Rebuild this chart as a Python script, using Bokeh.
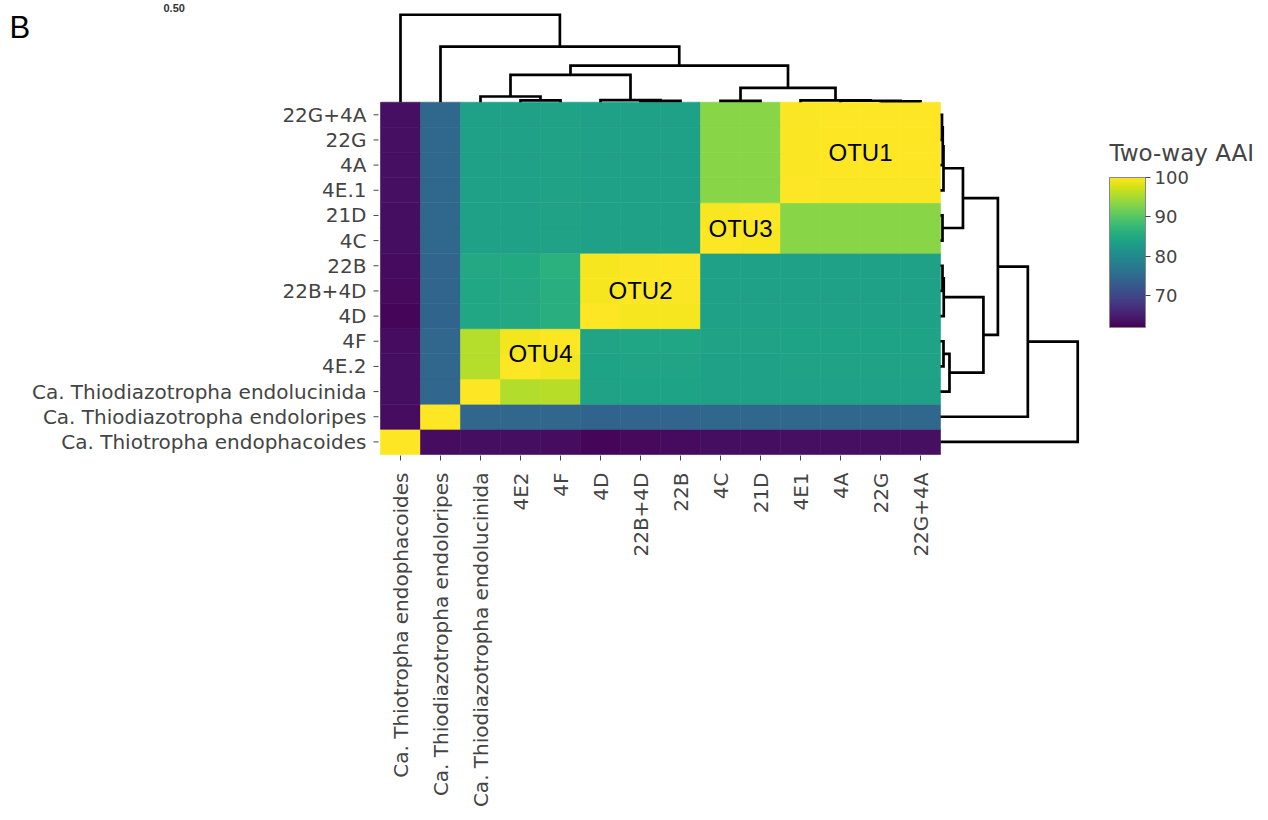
import math
from bokeh.plotting import figure
from bokeh.models import Range1d, FixedTicker, LinearColorMapper, ColorBar, ColumnDataSource
from bokeh.palettes import Viridis256
from bokeh.embed import file_html
from bokeh.resources import INLINE
from bokeh.core.properties import value

# ---------------- data ----------------
col_labels = ["Ca. Thiotropha endophacoides", "Ca. Thiodiazotropha endoloripes",
              "Ca. Thiodiazotropha endolucinida", "4E2", "4F", "4D", "22B+4D", "22B",
              "4C", "21D", "4E1", "4A", "22G", "22G+4A"]
row_labels = ["Ca. Thiotropha endophacoides", "Ca. Thiodiazotropha endoloripes",
              "Ca. Thiodiazotropha endolucinida", "4E.2", "4F", "4D", "22B+4D", "22B",
              "4C", "21D", "4E.1", "4A", "22G", "22G+4A"]

# two-way AAI, one list per row (bottom row first), columns in col_labels order
aai_endophacoides = [100.0, 63.2, 63.4, 63.4, 63.3, 62.6, 63.0, 63.1, 63.4, 63.4, 63.5, 63.5, 63.5, 63.5]
aai_endoloripes = [63.3, 100.0, 74.6, 74.5, 74.5, 74.3, 74.4, 74.4, 74.8, 74.8, 74.7, 74.7, 74.7, 74.7]
aai_endolucinida = [63.4, 74.6, 100.0, 95.6, 95.9, 83.9, 84.0, 84.0, 83.7, 83.7, 83.8, 83.8, 83.8, 83.8]
aai_4E2 = [63.4, 74.5, 95.8, 100.0, 99.3, 84.1, 84.2, 84.2, 83.8, 83.8, 83.9, 83.9, 83.9, 83.9]
aai_4F = [63.3, 74.5, 95.8, 99.3, 100.0, 84.2, 84.3, 84.3, 83.9, 83.9, 84.0, 84.0, 84.0, 84.0]
aai_4D = [62.6, 74.3, 84.8, 85.0, 86.0, 100.0, 99.5, 99.5, 83.8, 83.8, 83.7, 83.7, 83.7, 83.7]
aai_22B4D = [63.0, 74.4, 84.8, 85.0, 86.0, 99.5, 100.0, 99.8, 83.8, 83.8, 83.7, 83.7, 83.7, 83.7]
aai_22B = [63.1, 74.4, 84.9, 85.1, 86.2, 99.5, 99.8, 100.0, 83.8, 83.8, 83.7, 83.7, 83.7, 83.7]
aai_4C = [63.4, 74.8, 83.8, 83.8, 83.9, 83.8, 83.8, 83.8, 100.0, 99.6, 93.3, 93.3, 93.3, 93.3]
aai_21D = [63.4, 74.8, 83.8, 83.8, 83.9, 83.8, 83.8, 83.8, 99.6, 100.0, 93.2, 93.2, 93.2, 93.2]
aai_4E1 = [63.5, 74.7, 83.8, 83.8, 83.9, 83.7, 83.7, 83.7, 93.3, 93.3, 100.0, 99.8, 99.8, 99.8]
aai_4A = [63.5, 74.7, 83.8, 83.8, 83.9, 83.7, 83.7, 83.7, 93.3, 93.3, 99.8, 100.0, 99.9, 99.9]
aai_22G = [63.5, 74.7, 83.8, 83.8, 83.9, 83.7, 83.7, 83.7, 93.3, 93.3, 99.8, 99.9, 100.0, 99.9]
aai_22G4A = [63.5, 74.7, 83.8, 83.8, 83.9, 83.7, 83.7, 83.7, 93.3, 93.3, 99.8, 99.9, 99.9, 100.0]
aai_rows = [aai_endophacoides, aai_endoloripes, aai_endolucinida, aai_4E2, aai_4F, aai_4D,
            aai_22B4D, aai_22B, aai_4C, aai_21D, aai_4E1, aai_4A, aai_22G, aai_22G4A]

# hierarchical clustering (leaves 0..13, new nodes numbered from 14 in merge order)
merge_left = [3, 2, 6, 5, 15, 8, 12, 11, 10, 19, 18, 1, 0]
merge_right = [4, 14, 7, 16, 17, 9, 13, 20, 21, 22, 23, 24, 25]
merge_height = [0.012, 0.036, 0.008, 0.013, 0.172, 0.008, 0.006, 0.009, 0.012, 0.09, 0.23, 0.35, 0.55]

otu_names = ["OTU1", "OTU2", "OTU3", "OTU4"]
otu_first = [10, 5, 8, 3]
otu_last = [13, 7, 9, 4]

cbar_ticks = [70, 80, 90, 100]
cbar_title = "Two-way AAI"
aai_low, aai_high = 62.0, 100.0

# ---------------- layout constants (pixels) ----------------
W, H = 1268, 820
HEAT_LEFT = 380          # px of heatmap left edge
HEAT_BOTTOM = 454        # px of heatmap bottom edge
CELL_W = 40.0
CELL_H = 352.3 / 14
TOP_PX_PER_UNIT = 159.0
RIGHT_PX_PER_UNIT = 249.5
LABEL_FONT = "DejaVu Sans"
LABEL_SIZE = "20px"
GREY = "#444444"

n = len(col_labels)


def px_x(px):
    return -0.5 + (px - HEAT_LEFT) / CELL_W


def px_y(py):
    return -0.5 + (HEAT_BOTTOM - py) / CELL_H


mapper = LinearColorMapper(palette=Viridis256, low=aai_low, high=aai_high)

p = figure(width=W, height=H, x_range=Range1d(px_x(0), px_x(W)), y_range=Range1d(px_y(H), px_y(0)),
           output_backend="svg", toolbar_location=None,
           x_axis_location=None, y_axis_location=None,
           min_border_left=0, min_border_bottom=0, min_border_top=0, min_border_right=0)
p.grid.visible = False
p.outline_line_color = None
p.background_fill_color = "white"

# heatmap
xs, ys, vs = [], [], []
for i, row in enumerate(aai_rows):
    for j, v in enumerate(row):
        xs.append(j)
        ys.append(i)
        vs.append(v)
src = ColumnDataSource(dict(x=xs, y=ys, v=vs))
p.rect(x="x", y="y", width=1, height=1, source=src,
       fill_color={"field": "v", "transform": mapper},
       line_color={"field": "v", "transform": mapper}, line_width=0.6)

# dendrograms


def dendro(left, right, heights, nleaf):
    pos = list(range(nleaf))
    hts = [0.0] * nleaf
    segs = []
    for a, b, h in zip(left, right, heights):
        segs.append(([pos[a], pos[a], pos[b], pos[b]], [hts[a], h, h, hts[b]]))
        pos.append((pos[a] + pos[b]) / 2.0)
        hts.append(h)
    return segs


segs = dendro(merge_left, merge_right, merge_height, n)
top_scale = TOP_PX_PER_UNIT / CELL_H
right_scale = RIGHT_PX_PER_UNIT / CELL_W
top_xs = [s[0] for s in segs]
top_ys = [[n - 0.5 + h * top_scale for h in s[1]] for s in segs]
right_xs = [[n - 0.5 + h * right_scale for h in s[1]] for s in segs]
right_ys = [s[0] for s in segs]
p.multi_line(xs=top_xs, ys=top_ys, line_color="black", line_width=2.7, line_join="miter")
p.multi_line(xs=right_xs, ys=right_ys, line_color="black", line_width=2.7, line_join="miter")

# OTU labels
otu_x = [(a + b) / 2.0 for a, b in zip(otu_first, otu_last)]
p.text(x=otu_x, y=otu_x, text=otu_names, text_align="center", text_baseline="middle",
       text_font=value("Liberation Sans"), text_font_size="24px", text_color="black")

# axis ticks and tick labels (drawn in data space)
idx = list(range(n))
p.segment(x0=[px_x(373)] * n, y0=idx, x1=[px_x(378)] * n, y1=idx, line_color=GREY, line_width=1)
p.text(x=[px_x(366)] * n, y=idx, text=row_labels, text_align="right", text_baseline="middle",
       text_font=value(LABEL_FONT), text_font_size=LABEL_SIZE, text_color=GREY)
p.segment(x0=idx, y0=[px_y(455)] * n, x1=idx, y1=[px_y(460)] * n, line_color=GREY, line_width=1)
p.text(x=idx, y=[px_y(472)] * n, text=col_labels, angle=math.pi / 2, text_align="right",
       text_baseline="middle", text_font=value(LABEL_FONT), text_font_size=LABEL_SIZE,
       text_color=GREY)

# colour bar
cb = ColorBar(color_mapper=mapper, ticker=FixedTicker(ticks=cbar_ticks), width=36, height=150,
              padding=0, location=(1109, H - 327),
              major_label_text_font=LABEL_FONT, major_label_text_font_size="18px",
              major_label_text_color=GREY, major_tick_in=0, major_tick_out=5,
              major_tick_line_color=GREY, bar_line_color="#888888", label_standoff=4,
              background_fill_color=None, border_line_color=None)
p.add_layout(cb)
p.text(x=[px_x(1109)], y=[px_y(152)], text=[cbar_title], text_align="left",
       text_baseline="middle", text_font=value(LABEL_FONT), text_font_size="23px",
       text_color=GREY)

# panel letter and stray tick text
p.text(x=[px_x(9)], y=[px_y(27)], text=["B"], text_baseline="middle",
       text_font=value("Liberation Sans"), text_font_size="31px", text_color="black")
p.text(x=[px_x(163)], y=[px_y(7)], text=["0.50"], text_baseline="middle",
       text_font=value("Liberation Sans"), text_font_size="11px", text_font_style="bold",
       text_color="#333333")

open("out.html", "w").write(file_html(p, INLINE))
